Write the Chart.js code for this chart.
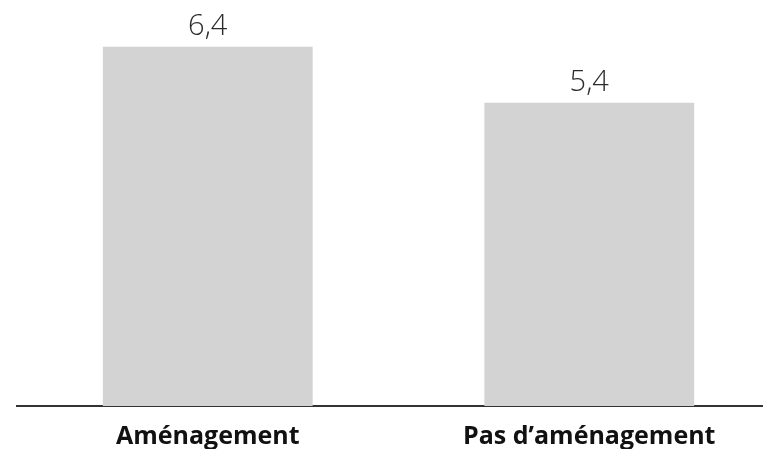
<!DOCTYPE html>
<html>
<head>
<meta charset="utf-8">
<script src="https://cdn.jsdelivr.net/npm/chart.js@4.4.1/dist/chart.umd.min.js"></script>
<style>
  html, body { margin: 0; padding: 0; background: #fff; overflow: hidden; }
  #wrap { width: 780px; height: 449px; }
</style>
</head>
<body>
<div id="wrap"><canvas id="barChart"></canvas></div>
<script>
// data
const categories = ['Aménagement', 'Pas d\u2019aménagement'];
const values = [6.4, 5.4];

// value labels above each bar
const valueLabels = {
    id: 'valueLabels',
    afterDatasetsDraw(chart) {
        const ctx = chart.ctx;
        const meta = chart.getDatasetMeta(0);
        ctx.save();
        ctx.font = '300 29px "Open Sans", "Noto Sans", sans-serif';
        ctx.fillStyle = '#2b2b2b';
        ctx.textAlign = 'center';
        ctx.textBaseline = 'alphabetic';
        meta.data.forEach((bar, i) => {
            const txt = values[i].toString().replace('.', ',');
            ctx.fillText(txt, bar.x, bar.y - 12);
        });
        ctx.restore();
    }
};

const barCtx = document.getElementById('barChart').getContext('2d');
const barChart = new Chart(barCtx, {
    type: 'bar',
    data: {
        labels: categories,
        datasets: [{
            data: values,
            backgroundColor: '#d3d3d3',
            borderWidth: 0,
            categoryPercentage: 1,
            barPercentage: 0.55
        }]
    },
    options: {
        responsive: true,
        maintainAspectRatio: false,
        animation: false,
        layout: {
            padding: { left: 17, right: 0, top: 13, bottom: 0 }
        },
        plugins: {
            legend: { display: false },
            tooltip: { enabled: false }
        },
        scales: {
            x: {
                grid: { display: false, drawTicks: false },
                border: { display: true, color: '#333333', width: 2 },
                ticks: {
                    color: '#111111',
                    padding: 18,
                    maxRotation: 0,
                    font: { family: '"Open Sans", "Noto Sans", sans-serif', size: 25, weight: 'bold', lineHeight: 1 }
                },
                afterFit(scale) {
                    scale.height = 43;
                }
            },
            y: {
                display: false,
                min: 0,
                max: 7
            }
        }
    },
    plugins: [valueLabels]
});
</script>
</body>
</html>
